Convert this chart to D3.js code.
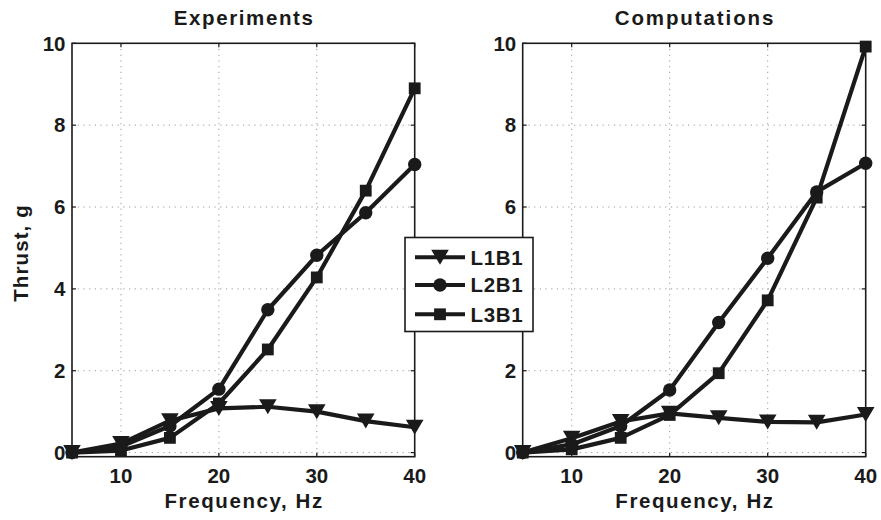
<!DOCTYPE html>
<html>
<head>
<meta charset="utf-8">
<script src="https://cdn.jsdelivr.net/npm/d3@7/dist/d3.min.js"></script>
<style>
  html, body { margin: 0; padding: 0; background: #fff; }
  svg text { font-family: "Liberation Sans", Arial, Helvetica, sans-serif; font-weight: bold; fill: #1a1a1a; }
</style>
</head>
<body>
<svg id="chart" width="881" height="520"></svg>
<script>
// ---- Data ----
const frequency = [5, 10, 15, 20, 25, 30, 35, 40];
const seriesNames = ["L1B1", "L2B1", "L3B1"];
const markers = ["triangle", "circle", "square"];

const expL1B1 = [0.0, 0.22, 0.78, 1.08, 1.12, 1.0, 0.77, 0.62];
const expL2B1 = [0.0, 0.15, 0.65, 1.55, 3.49, 4.82, 5.86, 7.04];
const expL3B1 = [0.0, 0.05, 0.36, 1.2, 2.52, 4.28, 6.4, 8.9];

const compL1B1 = [0.0, 0.35, 0.76, 0.96, 0.85, 0.75, 0.74, 0.93];
const compL2B1 = [0.0, 0.2, 0.65, 1.53, 3.18, 4.75, 6.37, 7.07];
const compL3B1 = [0.0, 0.08, 0.36, 0.92, 1.94, 3.72, 6.23, 9.92];

const xTicks = [10, 20, 30, 40];
const yTicks = [0, 2, 4, 6, 8, 10];
const titles = ["Experiments", "Computations"];
const xLabel = "Frequency, Hz";
const yLabel = "Thrust, g";

// ---- Layout ----
const svg = d3.select("#chart");
const ink = "#1a1a1a";
const FS = 20.5;
const panels = [
  { x0: 72, x1: 414.7, title: titles[0], data: [expL1B1, expL2B1, expL3B1] },
  { x0: 522.7, x1: 865.7, title: titles[1], data: [compL1B1, compL2B1, compL3B1] }
];
const yTop = 43.3, yBottom = 456.7;
const legendBox = { x: 405, y: 237.5, w: 128, h: 94 };

function drawMarker(g, type, cx, cy) {
  if (type === "circle") {
    g.append("circle").attr("cx", cx).attr("cy", cy).attr("r", 6.7).attr("fill", ink);
  } else if (type === "square") {
    g.append("rect").attr("x", cx - 5.9).attr("y", cy - 5.9).attr("width", 11.8).attr("height", 11.8).attr("fill", ink);
  } else {
    const w = 8.8, h = 7.5;
    g.append("path").attr("d", `M${cx - w},${cy - h}L${cx + w},${cy - h}L${cx},${cy + h}Z`).attr("fill", ink);
  }
}

function underLegend(px, py) {
  return px > legendBox.x - 20 && px < legendBox.x + legendBox.w && py > legendBox.y && py < legendBox.y + legendBox.h;
}

panels.forEach((p, pi) => {
  const x = d3.scaleLinear().domain([5, 40]).range([p.x0, p.x1]);
  const y = d3.scaleLinear().domain([-0.1, 10]).range([yBottom, yTop]);
  const g = svg.append("g");

  // grid
  g.selectAll(".gx").data(xTicks.filter(t => t < 40)).enter().append("line")
    .attr("x1", d => x(d)).attr("x2", d => x(d)).attr("y1", yTop).attr("y2", yBottom)
    .attr("stroke", "#9a9a9a").attr("stroke-width", 1).attr("stroke-dasharray", "1.2,4.5");
  g.selectAll(".gy").data(yTicks.filter(t => t < 10)).enter().append("line")
    .attr("x1", p.x0).attr("x2", p.x1).attr("y1", d => y(d)).attr("y2", d => y(d))
    .attr("stroke", "#9a9a9a").attr("stroke-width", 1).attr("stroke-dasharray", "1.2,4.5");

  // ticks (inward, all four sides)
  xTicks.forEach(t => {
    g.append("line").attr("x1", x(t)).attr("x2", x(t)).attr("y1", yBottom).attr("y2", yBottom - 4).attr("stroke", ink).attr("stroke-width", 1.2);
    g.append("line").attr("x1", x(t)).attr("x2", x(t)).attr("y1", yTop).attr("y2", yTop + 4).attr("stroke", ink).attr("stroke-width", 1.2);
  });
  yTicks.forEach(t => {
    g.append("line").attr("x1", p.x0).attr("x2", p.x0 + 4).attr("y1", y(t)).attr("y2", y(t)).attr("stroke", ink).attr("stroke-width", 1.2);
    g.append("line").attr("x1", p.x1).attr("x2", p.x1 - 4).attr("y1", y(t)).attr("y2", y(t)).attr("stroke", ink).attr("stroke-width", 1.2);
  });

  // box
  g.append("rect").attr("x", p.x0).attr("y", yTop).attr("width", p.x1 - p.x0).attr("height", yBottom - yTop)
    .attr("fill", "none").attr("stroke", ink).attr("stroke-width", 1.6);

  // tick labels
  g.selectAll(".xl").data(xTicks).enter().append("text")
    .attr("x", d => x(d)).attr("y", 483).attr("text-anchor", "middle").attr("font-size", FS).text(d => d);
  g.selectAll(".yl").data(yTicks.filter(t => !underLegend(p.x0 - 10, y(t)))).enter().append("text")
    .attr("x", p.x0 - 6.5).attr("y", d => y(d) + 7.3).attr("text-anchor", "end").attr("font-size", FS).text(d => d);

  // title & x label
  const cx = (p.x0 + p.x1) / 2;
  g.append("text").attr("x", cx + 0.8).attr("y", 24.5).attr("text-anchor", "middle").attr("font-size", FS)
    .attr("letter-spacing", pi === 0 ? 1.6 : 1.9).text(p.title);
  g.append("text").attr("x", cx + 0.8).attr("y", 508).attr("text-anchor", "middle").attr("font-size", FS)
    .attr("letter-spacing", 1.6).text(xLabel);

  // series
  const line = d3.line().x((d, i) => x(frequency[i])).y(d => y(d));
  p.data.forEach((vals) => {
    g.append("path").datum(vals).attr("d", line).attr("fill", "none")
      .attr("stroke", ink).attr("stroke-width", 4.2).attr("stroke-linejoin", "round");
  });
  p.data.forEach((vals, si) => {
    vals.forEach((v, i) => drawMarker(g, markers[si], x(frequency[i]), y(v)));
  });
});

// y label
svg.append("text").attr("transform", "translate(27.5,253) rotate(-90)")
  .attr("text-anchor", "middle").attr("font-size", FS).attr("letter-spacing", 1.1).text(yLabel);

// legend
const lg = svg.append("g");
lg.append("rect").attr("x", legendBox.x).attr("y", legendBox.y).attr("width", legendBox.w).attr("height", legendBox.h)
  .attr("fill", "#fff").attr("stroke", ink).attr("stroke-width", 1.6);
const rowY = [257.3, 285, 314.3];
seriesNames.forEach((name, i) => {
  lg.append("line").attr("x1", 415).attr("x2", 465).attr("y1", rowY[i]).attr("y2", rowY[i])
    .attr("stroke", ink).attr("stroke-width", 4);
  drawMarker(lg, markers[i], 440, rowY[i]);
  lg.append("text").attr("x", 470.5).attr("y", rowY[i] + 7.4).attr("font-size", FS)
    .attr("letter-spacing", 0.7).text(name);
});
</script>
</body>
</html>
